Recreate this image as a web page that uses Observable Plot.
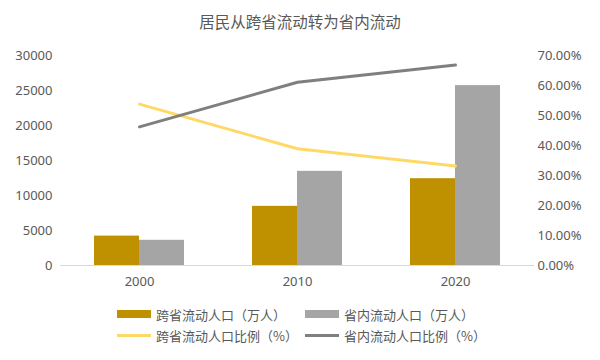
<!DOCTYPE html>
<html>
<head>
<meta charset="utf-8">
<script src="https://cdn.jsdelivr.net/npm/d3@7"></script>
<script src="https://cdn.jsdelivr.net/npm/@observablehq/plot@0.6"></script>
<style>
  body { margin: 0; background: #fff; font-family: "Noto Sans CJK SC", "Noto Sans", sans-serif; }
  #wrap { width: 600px; height: 360px; position: relative; overflow: hidden; }
  #title { height: 40px; line-height: 42px; text-align: center; font-size: 15.5px; color: #595959; }
  #legend { position: absolute; left: 0; top: 304px; width: 600px; font-size: 13px; color: #595959; }
  .item { position: absolute; display: flex; align-items: center; white-space: nowrap; height: 20px; }
  .sw { width: 34px; margin-right: 5px; }
</style>
</head>
<body>
<div id="wrap">
  <div id="title">居民从跨省流动转为省内流动</div>
  <div id="chart"></div>
  <div id="legend"></div>
</div>
<script>
const years = ["2000", "2010", "2020"];
const crossPop = [4200, 8450, 12400];      // 跨省流动人口（万人）
const intraPop = [3600, 13450, 25700];     // 省内流动人口（万人）
const crossPct = [53.8, 38.9, 33.2];       // 跨省流动人口比例（%）
const intraPct = [46.2, 61.1, 66.8];       // 省内流动人口比例（%）
const leftTicks = [0, 5000, 10000, 15000, 20000, 25000, 30000];
const rightTicks = [0, 10, 20, 30, 40, 50, 60, 70];
const seriesNames = ["跨省流动人口（万人）", "省内流动人口（万人）", "跨省流动人口比例（%）", "省内流动人口比例（%）"];
const colors = ["#BF9000", "#A5A5A5", "#FFD966", "#7F7F7F"];

const leftMax = 30000, rightMax = 70;
const toLeft = p => p * leftMax / rightMax;

const barsCross = years.map((y, i) => ({year: y, value: crossPop[i]}));
const barsIntra = years.map((y, i) => ({year: y, value: intraPop[i]}));
const lineCross = years.map((y, i) => ({year: y, value: toLeft(crossPct[i])}));
const lineIntra = years.map((y, i) => ({year: y, value: toLeft(intraPct[i])}));

const W = 600, mL = 60, mR = 66;
const band = (W - mL - mR) / years.length;
const barW = 45;
const outer = (band - 2 * barW) / 2;

const chart = Plot.plot({
  width: W,
  height: 255,
  marginLeft: mL,
  marginRight: mR,
  marginTop: 15,
  marginBottom: 30,
  style: {fontFamily: "'Noto Sans', sans-serif", fontSize: "13px", color: "#595959", background: "transparent"},
  x: {type: "band", domain: years, padding: 0, label: null},
  y: {domain: [0, leftMax], label: null},
  marks: [
    Plot.barY(barsCross, {x: "year", y: "value", fill: colors[0], insetLeft: outer, insetRight: outer + barW}),
    Plot.barY(barsIntra, {x: "year", y: "value", fill: colors[1], insetLeft: outer + barW, insetRight: outer}),
    Plot.ruleY([0], {stroke: "#D9D9D9", strokeWidth: 1}),
    Plot.line(lineCross, {x: "year", y: "value", stroke: colors[2], strokeWidth: 3}),
    Plot.line(lineIntra, {x: "year", y: "value", stroke: colors[3], strokeWidth: 3}),
    Plot.axisX({tickSize: 0, tickPadding: 11, label: null, fill: "#595959"}),
    Plot.axisY({ticks: leftTicks, tickSize: 0, tickPadding: 8, label: null, tickFormat: d => String(d), fill: "#595959"}),
    Plot.axisY({anchor: "right", ticks: rightTicks.map(toLeft), tickSize: 0, tickPadding: 3, label: null,
      tickFormat: d => (d * rightMax / leftMax).toFixed(2) + "%", fill: "#595959"})
  ]
});
document.getElementById("chart").appendChild(chart);

const legend = document.getElementById("legend");
const pos = [[117, 0], [305, 0], [117, 21], [305, 21]];
seriesNames.forEach((name, i) => {
  const it = document.createElement("div");
  it.className = "item";
  it.style.left = pos[i][0] + "px";
  it.style.top = pos[i][1] + "px";
  const sw = document.createElement("span");
  sw.className = "sw";
  sw.style.height = i < 2 ? "8px" : "3px";
  sw.style.background = colors[i];
  it.appendChild(sw);
  const t = document.createElement("span");
  t.textContent = name;
  it.appendChild(t);
  legend.appendChild(it);
});
</script>
</body>
</html>
